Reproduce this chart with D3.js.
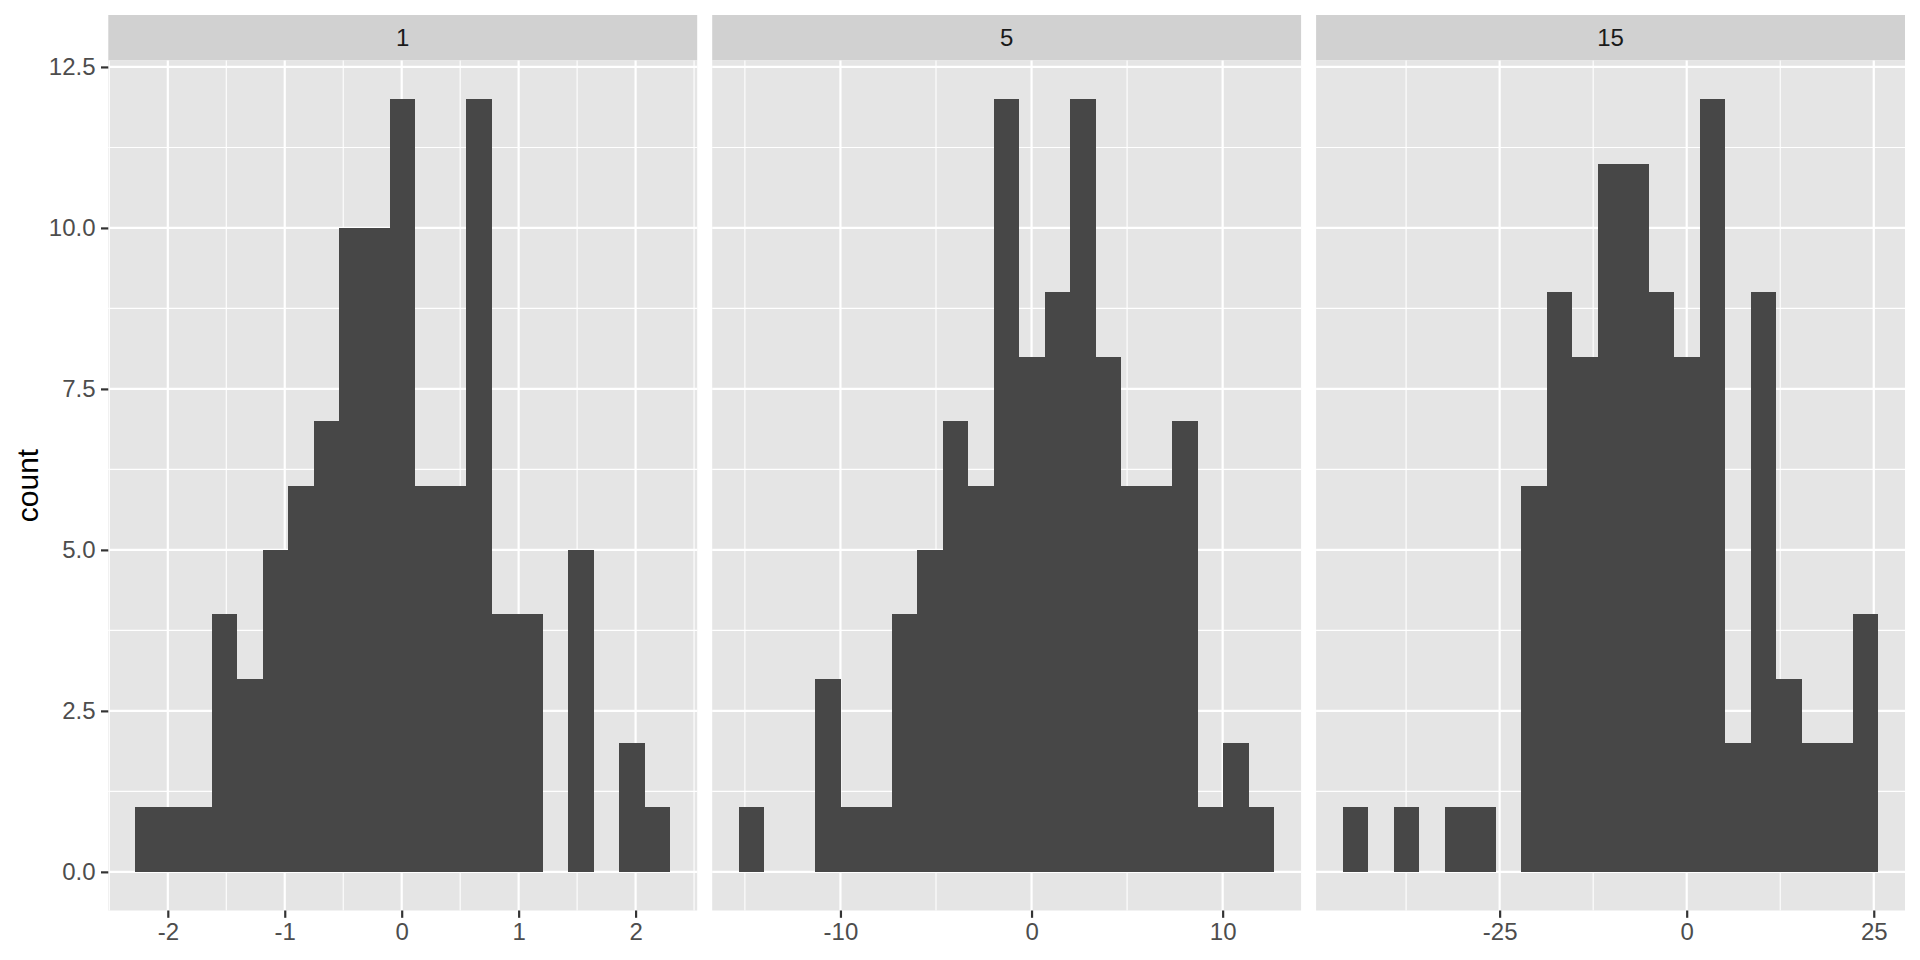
<!DOCTYPE html>
<html>
<head>
<meta charset="utf-8">
<script src="https://cdnjs.cloudflare.com/ajax/libs/d3/7.8.5/d3.min.js"></script>
<style>
  body { margin: 0; background: #fff; }
  svg { display: block; font-family: "Liberation Sans", Arial, Helvetica, sans-serif; }
</style>
</head>
<body>
<div id="chart"></div>
<script>
// facet labels and histogram bins
const facetLabels = ["1", "5", "15"];
const binStart = [-2.28, -15.31, -45.95];
const binWidth = [0.218, 1.334, 3.407];
const counts1 = [1, 1, 1, 4, 3, 5, 6, 7, 10, 10, 12, 6, 6, 12, 4, 4, 0, 5, 0, 2, 1];
const counts5 = [1, 0, 0, 3, 1, 1, 4, 5, 7, 6, 12, 8, 9, 12, 8, 6, 6, 7, 1, 2, 1];
const counts15 = [1, 0, 1, 0, 1, 1, 0, 6, 9, 8, 11, 11, 9, 8, 12, 2, 9, 3, 2, 2, 4];
const xTicks1 = [-2, -1, 0, 1, 2];
const xTicks5 = [-10, 0, 10];
const xTicks15 = [-25, 0, 25];
const yTicks = [0, 2.5, 5, 7.5, 10, 12.5];
const yLabel = "count";

const allCounts = [counts1, counts5, counts15];
const allXTicks = [xTicks1, xTicks5, xTicks15];

const width = 1920;
const height = 960;
const plotLeft = 108.3;
const plotRight = 15;
const stripTop = 15;
const stripH = 45.5;
const panelTop = stripTop + stripH;
const panelBottom = 910.5;
const spacing = 15;
const panelW = (width - plotLeft - plotRight - spacing * 2) / 3;
const panelH = panelBottom - panelTop;

const bgCol = "#E5E5E5";
const stripCol = "#D1D1D1";
const barCol = "#474747";

const svg = d3.select("#chart")
  .append("svg")
  .attr("width", width)
  .attr("height", height);

svg.append("rect")
  .attr("width", width)
  .attr("height", height)
  .attr("fill", "#fff");

// shared y scale, ggplot style 5% expansion
const yMax = d3.max(allCounts.flat());
const yPad = yMax * 0.05;
const y = d3.scaleLinear()
  .domain([-yPad, yMax + yPad])
  .range([panelH, 0]);

function minorBreaks(major, domain) {
  const step = major[1] - major[0];
  const b = [major[0] - step, ...major, major[major.length - 1] + step];
  const out = [];
  for (let i = 0; i < b.length - 1; i++) out.push((b[i] + b[i + 1]) / 2);
  return out.filter(v => v >= domain[0] && v <= domain[1]);
}

facetLabels.forEach((lab, k) => {
  const counts = allCounts[k];
  const x0 = binStart[k];
  const bw = binWidth[k];
  const x1 = x0 + bw * counts.length;
  const xPad = (x1 - x0) * 0.05;

  const x = d3.scaleLinear()
    .domain([x0 - xPad, x1 + xPad])
    .range([0, panelW]);

  const left = plotLeft + k * (panelW + spacing);

  // strip
  svg.append("rect")
    .attr("x", left)
    .attr("y", stripTop)
    .attr("width", panelW)
    .attr("height", stripH)
    .attr("fill", stripCol);

  svg.append("text")
    .attr("x", left + panelW / 2)
    .attr("y", stripTop + stripH / 2)
    .attr("dy", "0.35em")
    .attr("text-anchor", "middle")
    .attr("font-size", "24px")
    .attr("fill", "#1A1A1A")
    .text(lab);

  const g = svg.append("g")
    .attr("transform", `translate(${left},${panelTop})`);

  g.append("rect")
    .attr("width", panelW)
    .attr("height", panelH)
    .attr("fill", bgCol);

  // minor grid
  const xMinor = minorBreaks(allXTicks[k], x.domain());
  const yMinor = minorBreaks(yTicks, y.domain());

  g.selectAll(".xminor")
    .data(xMinor)
    .enter()
    .append("line")
    .attr("x1", d => x(d))
    .attr("x2", d => x(d))
    .attr("y1", 0)
    .attr("y2", panelH)
    .attr("stroke", "#fff")
    .attr("stroke-width", 1.1);

  g.selectAll(".yminor")
    .data(yMinor)
    .enter()
    .append("line")
    .attr("x1", 0)
    .attr("x2", panelW)
    .attr("y1", d => y(d))
    .attr("y2", d => y(d))
    .attr("stroke", "#fff")
    .attr("stroke-width", 1.1);

  // major grid
  g.selectAll(".xmajor")
    .data(allXTicks[k])
    .enter()
    .append("line")
    .attr("x1", d => x(d))
    .attr("x2", d => x(d))
    .attr("y1", 0)
    .attr("y2", panelH)
    .attr("stroke", "#fff")
    .attr("stroke-width", 2.2);

  g.selectAll(".ymajor")
    .data(yTicks)
    .enter()
    .append("line")
    .attr("x1", 0)
    .attr("x2", panelW)
    .attr("y1", d => y(d))
    .attr("y2", d => y(d))
    .attr("stroke", "#fff")
    .attr("stroke-width", 2.2);

  // bars
  const bins = counts.map((c, i) => ({ start: x0 + i * bw, count: c }))
    .filter(d => d.count > 0);

  g.selectAll(".bar")
    .data(bins)
    .enter()
    .append("rect")
    .attr("class", "bar")
    .attr("x", d => x(d.start))
    .attr("width", x(x0 + bw) - x(x0))
    .attr("y", d => y(d.count))
    .attr("height", d => y(0) - y(d.count))
    .attr("fill", barCol)
    .attr("shape-rendering", "crispEdges");

  // x axis
  const xAxis = g.append("g")
    .attr("transform", `translate(0,${panelH})`)
    .call(d3.axisBottom(x)
      .tickValues(allXTicks[k])
      .tickSize(7.3)
      .tickPadding(5.5)
      .tickFormat(d => String(d)));
  xAxis.select(".domain").remove();
  xAxis.selectAll(".tick line").attr("stroke", "#333").attr("stroke-width", 2.2);
  xAxis.selectAll(".tick text")
    .attr("fill", "#4D4D4D")
    .attr("font-size", "24px")
    .attr("font-family", null);

  if (k === 0) {
    const yAxis = g.append("g")
      .call(d3.axisLeft(y)
        .tickValues(yTicks)
        .tickSize(7.3)
        .tickPadding(5.5)
        .tickFormat(d => d.toFixed(1)));
    yAxis.select(".domain").remove();
    yAxis.selectAll(".tick line").attr("stroke", "#333").attr("stroke-width", 2.2);
    yAxis.selectAll(".tick text")
      .attr("fill", "#4D4D4D")
      .attr("font-size", "24px")
      .attr("font-family", null);
  }
});

// y title
svg.append("text")
  .attr("transform", `translate(${27},${panelTop + panelH / 2}) rotate(-90)`)
  .attr("text-anchor", "middle")
  .attr("dy", "0.35em")
  .attr("font-size", "30px")
  .attr("fill", "#000")
  .text(yLabel);
</script>
</body>
</html>
